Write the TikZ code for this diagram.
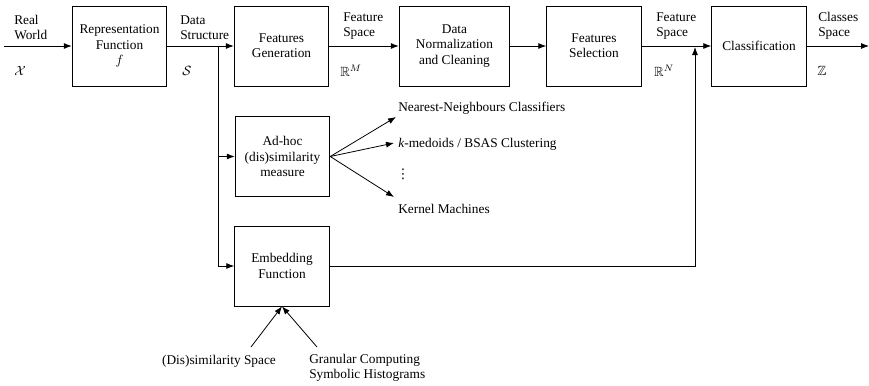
\documentclass[tikz,border=0pt]{standalone}
\usepackage{amsmath}
\usepackage{amssymb}
\usepackage{fontspec}
\setmainfont{Liberation Serif}
\newfontfamily\dotsfont{DejaVu Sans}
\usetikzlibrary{calc,arrows.meta}

\begin{document}
\begin{tikzpicture}[x=0.75pt,y=-0.75pt,
    every node/.style={font=\fontsize{10}{11.5}\selectfont},
    block/.style={draw,line width=0.6pt,minimum width=71pt,minimum height=60pt,align=center},
    lbl/.style={align=left,inner sep=0pt},
    arr/.style={-{Latex[length=6pt,width=4.5pt]},line width=0.6pt}]
  \useasboundingbox (0,0) rectangle (869,386);
  \node[block] (rep) at (119.5,46) {Representation\\Function\\$f$};
  \node[block] (gen) at (281.5,46) {Features\\Generation};
  \node[block,minimum width=83pt] (norm) at (454.5,46) {Data\\Normalization\\and Cleaning};
  \node[block] (sel) at (594,46) {Features\\Selection};
  \node[block] (cls) at (759,46) {Classification};
  \node[block] (adhoc) at (282.5,156.5) {Ad-hoc\\(dis)similarity\\measure};
  \node[block] (emb) at (282,266) {Embedding\\Function};
  \node[lbl,anchor=south west] (world) at (14,40) {Real\\World};
  \node[lbl] (chi) at (20,71) {$\mathcal{X}$};
  \node[lbl,anchor=south west] (data) at (180,40) {Data\\Structure};
  \node[lbl] (s) at (187,71) {$\mathcal{S}$};
  \node[lbl,anchor=south west] (fsm) at (343,40) {Feature\\Space};
  \node[lbl] (rm) at (351,71) {$\mathbb{R}^M$};
  \node[lbl,anchor=south west] (fsn) at (656,40) {Feature\\Space};
  \node[lbl] (rn) at (664,71) {$\mathbb{R}^N$};
  \node[lbl,anchor=south west] (csp) at (818,40) {Classes\\Space};
  \node[lbl] (z) at (822,71) {$\mathbb{Z}$};
  \node[lbl,anchor=west] (nn) at (398,108) {Nearest-Neighbours Classifiers};
  \node[lbl,anchor=west] (kmed) at (398,144) {\textit{k}-medoids / BSAS Clustering};
  \node[lbl,anchor=west] (dots) at (396,174) {\dotsfont ⋮};
  \node[lbl,anchor=west] (kern) at (398,209) {Kernel Machines};
  \node[lbl] (dis) at (219,361) {(Dis)similarity Space};
  \node[lbl,anchor=north west] (gran) at (309,354) {Granular Computing\\Symbolic Histograms};
  \coordinate (in) at (4,46);
  \coordinate (out) at (869,46);
  \coordinate (br) at (218,46);
  \coordinate (join) at (695,47);
  \coordinate (tnn) at (396,117);
  \coordinate (tkm) at (394,143);
  \coordinate (tkern) at (394,197);
  \coordinate (fdis) at (251,347);
  \coordinate (fgran) at (317,347);
  \draw[arr] (in) -- (rep);
  \draw[arr] (rep) -- (gen);
  \draw[arr] (gen) -- (norm);
  \draw[arr] (norm) -- (sel);
  \draw[arr] (sel) -- (cls);
  \draw[arr] (cls) -- (out);
  \draw[arr] (br) |- (adhoc);
  \draw[arr] (br) |- (emb);
  \draw[arr] (emb) -| (join);
  \draw[arr] (adhoc.east) -- (tnn);
  \draw[arr] (adhoc.east) -- (tkm);
  \draw[arr] (adhoc.east) -- (tkern);
  \draw[arr] (fdis) -- (emb.south);
  \draw[arr] (fgran) -- (emb.south);
\end{tikzpicture}
\end{document}
